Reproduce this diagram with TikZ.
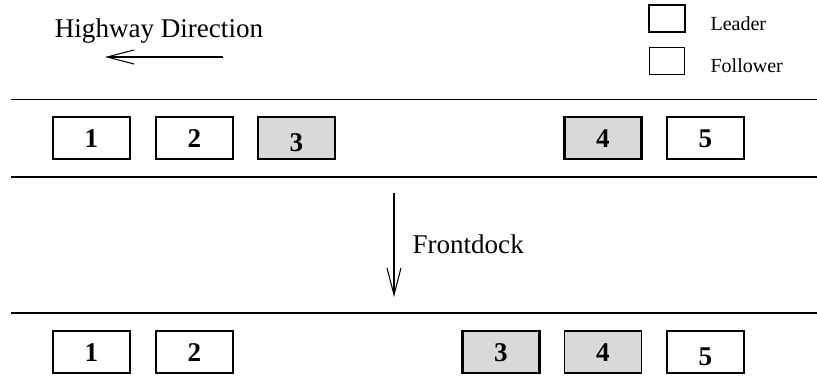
\documentclass[tikz,border=0pt]{standalone}
\usetikzlibrary{arrows.meta, positioning}
\usepackage{fontspec}
\setmainfont{Liberation Serif}
\def\carw{1.54cm}
\def\carh{0.84cm}

\begin{document}
\begin{tikzpicture}[line width=0.6pt, >={Straight Barb[length=0.54cm, width=0.28cm]}]
    \tikzstyle{car}=[rectangle, draw=black, minimum width=\carw, minimum height=\carh, inner sep=0pt, text height=0.37cm, text depth=0cm, font=\fontsize{15.4}{18}\selectfont\bfseries]
    \tikzstyle{leader car}=[car, line width=1.2pt];
    \tikzstyle{follower car}=[car, line width=0.6pt];
    \tikzstyle{docking}=[fill=black!15];
    \tikzstyle{legend}=[rectangle, draw=black, minimum width=0.71cm, minimum height=0.53cm, inner sep=0pt];
    \tikzstyle{annot}=[inner sep=0pt, font=\fontsize{15.4}{18}\selectfont];
    \tikzstyle{small annot}=[inner sep=0pt, font=\fontsize{11.4}{13}\selectfont];

    \useasboundingbox (0,0) rectangle (16.34,7.74);

%    legend
	\node[legend, line width=1.2pt] (L) at (13.34,7.37){};
	\node[small annot, anchor=base west] (L-text) at (14.2,7.12){Leader};
	\node[legend] (F) at (13.34,6.52){};
	\node[small annot, anchor=base west] (F-text) at (14.2,6.28){Follower};

%    direction of travel
	\node[annot, anchor=base] (H) at (3.18,6.98){Highway Direction};
	\coordinate (H-start) at (4.46,6.6);
	\coordinate (H-end) at (2.1,6.6);
	\draw[->] (H-start) -- (H-end);

%    road borders
	\foreach \y in {5.75,4.2,1.48}{
		\draw (0.22,\y) -- (16.34,\y);
		}

%    before the frontdock
	\node[leader car] (A-1) at (1.83,4.98) {1};
	\node[follower car] (A-2) at (3.89,4.98) {2};
	\node[follower car, docking] (A-3) at (5.93,4.98) {\raisebox{-0.08cm}{3}};
	\node[leader car, docking] (A-4) at (12.06,4.98) {4};
	\node[follower car] (A-5) at (14.11,4.98) {5};

%    the manoeuvre
	\coordinate (D-start) at (7.88,3.88);
	\coordinate (D-end) at (7.88,1.8);
	\draw[->] (D-start) -- (D-end);
	\node[annot, anchor=base west] (D) at (8.24,2.66){Frontdock};

%    after the frontdock
	\node[leader car] (B-1) at (1.83,0.7) {1};
	\node[follower car] (B-2) at (3.89,0.7) {2};
	\node[leader car, docking] (B-3) at (10.02,0.7) {3};
	\node[follower car, docking] (B-4) at (12.06,0.7) {4};
	\node[follower car] (B-5) at (14.11,0.7) {\raisebox{-0.08cm}{5}};

\end{tikzpicture}
\end{document}
